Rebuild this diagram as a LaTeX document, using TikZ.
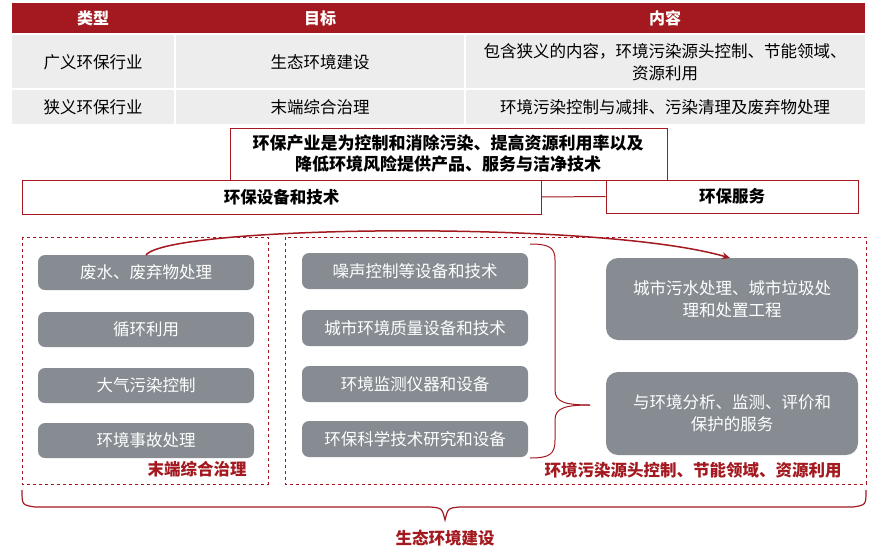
\documentclass[tikz,border=0pt]{standalone}
\usepackage{fontspec}
\setmainfont{Noto Sans CJK SC}
\usetikzlibrary{decorations.pathreplacing,arrows.meta}
\definecolor{dred}{HTML}{A3191F}
\definecolor{lgray}{HTML}{EDEDED}
\definecolor{bgray}{HTML}{868C92}
\tikzset{
 cell/.style={anchor=center,font=\fontsize{16.5}{20}\selectfont},
 hdr/.style={cell,text=white,font=\fontsize{16}{19}\selectfont\bfseries},
 rbox/.style={draw=dred,line width=1pt,fill=white},
 gbox/.style={fill=bgray,rounded corners=7pt,text=white,font=\fontsize{16.5}{20}\selectfont,align=center},
 dbox/.style={draw=dred,dashed,line width=1pt},
 rlab/.style={text=dred,font=\fontsize{16.5}{20}\selectfont\bfseries},
}
\begin{document}
\begin{tikzpicture}[x=1pt,y=-1pt]
\useasboundingbox (0,0) rectangle (880,552);
% table
\fill[dred] (12,3) rectangle (865,33);
\fill[lgray] (12,35) rectangle (174,88);
\fill[lgray] (176,35) rectangle (464,88);
\fill[lgray] (466,35) rectangle (865,88);
\fill[lgray] (12,90) rectangle (174,124);
\fill[lgray] (176,90) rectangle (464,124);
\fill[lgray] (466,90) rectangle (865,124);
\node[hdr] (h1) at (93,18) {类型};
\node[hdr] (h2) at (320,18) {目标};
\node[hdr] (h3) at (665,18) {内容};
\node[cell] (a1) at (93,62) {广义环保行业};
\node[cell] (b1) at (320,62) {生态环境建设};
\node[cell,align=center,font=\fontsize{16.5}{22}\selectfont] (c1) at (665,62) {包含狭义的内容，环境污染源头控制、节能领域、\\资源利用};
\node[cell] (a2) at (93,107) {狭义环保行业};
\node[cell] (b2) at (320,107) {末端综合治理};
\node[cell] (c2) at (665,107) {环境污染控制与减排、污染清理及废弃物处理};
% definition
\draw[rbox] (230,128) rectangle (667,180);
\node[cell,align=center,font=\fontsize{17}{21}\selectfont\bfseries] (def) at (448,154) {环保产业是为控制和消除污染、提高资源利用率以及\\降低环境风险提供产品、服务与洁净技术};
\node[rbox,minimum width=519pt,minimum height=34pt,font=\fontsize{16.5}{20}\selectfont\bfseries] (eq) at (281.5,197) {环保设备和技术};
\node[rbox,minimum width=252pt,minimum height=33pt,font=\fontsize{16.5}{20}\selectfont\bfseries] (sv) at (732,196.5) {环保服务};
\draw[dred,line width=1pt] (eq.east) -- (sv.west);
% dashed areas
\draw[dbox] (22,237) rectangle (268,484);
\draw[dbox] (285,237) rectangle (866,484);
\node[rlab] (l1) at (197,469) {末端综合治理};
\node[rlab] (l2) at (693,470) {环境污染源头控制、节能领域、资源利用};
% left boxes
\node[gbox,minimum width=216pt,minimum height=35pt] (g1) at (146,272.5) {废水、废弃物处理};
\node[gbox,minimum width=216pt,minimum height=35pt] (g2) at (146,329.5) {循环利用};
\node[gbox,minimum width=216pt,minimum height=35pt] (g3) at (146,385.5) {大气污染控制};
\node[gbox,minimum width=216pt,minimum height=35pt] (g4) at (146,440.5) {环境事故处理};
% middle boxes
\node[gbox,minimum width=226pt,minimum height=36pt] (m1) at (415,271) {噪声控制等设备和技术};
\node[gbox,minimum width=226pt,minimum height=36pt] (m2) at (415,328) {城市环境质量设备和技术};
\node[gbox,minimum width=226pt,minimum height=36pt] (m3) at (415,384) {环境监测仪器和设备};
\node[gbox,minimum width=226pt,minimum height=36pt] (m4) at (415,439) {环保科学技术研究和设备};
% right boxes
\node[gbox,rounded corners=12pt,minimum width=252pt,minimum height=82pt,font=\fontsize{16.5}{22}\selectfont] (r1) at (732,299) {城市污水处理、城市垃圾处\\理和处置工程};
\node[gbox,rounded corners=12pt,minimum width=252pt,minimum height=83pt,font=\fontsize{16.5}{22}\selectfont] (r2) at (732,413.5) {与环境分析、监测、评价和\\保护的服务};
% brace
\coordinate (bt) at (590,405);
\draw[dred,line width=1pt] (530,244) .. controls (550,244) and (555,248) .. (555,260) -- (555,390) .. controls (555,402) and (565,405) .. (bt);
\draw[dred,line width=1pt] (530,458) .. controls (550,458) and (555,454) .. (555,440) -- (555,420) .. controls (555,408) and (565,405) .. (bt);
% curved arrow
\coordinate (as) at (146,255);
\coordinate (ae) at (730,258);
\draw[dred,line width=1.5pt,-{Stealth[length=8pt,width=7pt]}] (as) .. controls (170,225) and (600,220) .. (ae);
% bottom brace
\coordinate (b0) at (22,490);
\coordinate (b1x) at (866,490);
\draw[dred,line width=1.2pt] (b0) .. controls (22,505) .. (35,507) -- (430,507) .. controls (442,508) .. (445,520) .. controls (448,508) .. (460,507) -- (853,507) .. controls (866,505) .. (b1x);
\node[rlab] (bl) at (445,538) {生态环境建设};
\end{tikzpicture}
\end{document}
